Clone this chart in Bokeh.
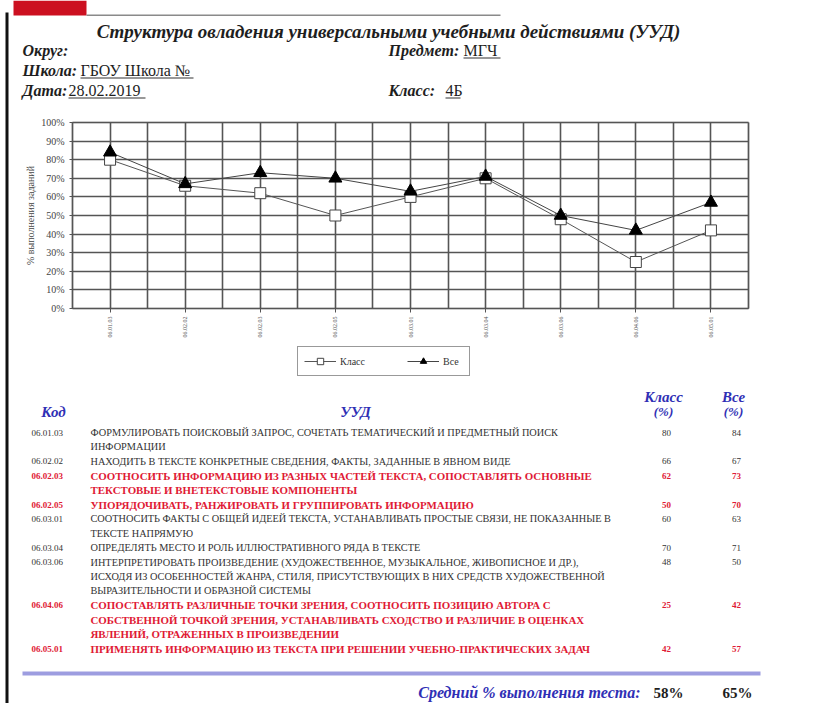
import math
from bokeh.plotting import figure
from bokeh.models import (Label, BoxAnnotation, FixedTicker, NumeralTickFormatter,
                          Range1d, LinearAxis, Grid)
from bokeh.embed import file_html
from bokeh.resources import INLINE

# ---------------- data ----------------
codes = ["06.01.03", "06.02.02", "06.02.03", "06.02.05", "06.03.01",
         "06.03.04", "06.03.06", "06.04.06", "06.05.01"]
class_pct = [80, 66, 62, 50, 60, 70, 48, 25, 42]
all_pct = [84, 67, 73, 70, 63, 71, 50, 42, 57]
uud_text = [
    ["ФОРМУЛИРОВАТЬ ПОИСКОВЫЙ ЗАПРОС, СОЧЕТАТЬ ТЕМАТИЧЕСКИЙ И ПРЕДМЕТНЫЙ ПОИСК",
     "ИНФОРМАЦИИ"],
    ["НАХОДИТЬ В ТЕКСТЕ КОНКРЕТНЫЕ СВЕДЕНИЯ, ФАКТЫ, ЗАДАННЫЕ В ЯВНОМ ВИДЕ"],
    ["СООТНОСИТЬ ИНФОРМАЦИЮ ИЗ РАЗНЫХ ЧАСТЕЙ ТЕКСТА, СОПОСТАВЛЯТЬ ОСНОВНЫЕ",
     "ТЕКСТОВЫЕ И ВНЕТЕКСТОВЫЕ КОМПОНЕНТЫ"],
    ["УПОРЯДОЧИВАТЬ, РАНЖИРОВАТЬ И ГРУППИРОВАТЬ ИНФОРМАЦИЮ"],
    ["СООТНОСИТЬ ФАКТЫ С ОБЩЕЙ ИДЕЕЙ ТЕКСТА, УСТАНАВЛИВАТЬ ПРОСТЫЕ СВЯЗИ, НЕ ПОКАЗАННЫЕ В",
     "ТЕКСТЕ НАПРЯМУЮ"],
    ["ОПРЕДЕЛЯТЬ МЕСТО И РОЛЬ ИЛЛЮСТРАТИВНОГО РЯДА В ТЕКСТЕ"],
    ["ИНТЕРПРЕТИРОВАТЬ ПРОИЗВЕДЕНИЕ (ХУДОЖЕСТВЕННОЕ, МУЗЫКАЛЬНОЕ, ЖИВОПИСНОЕ И ДР.),",
     "ИСХОДЯ ИЗ ОСОБЕННОСТЕЙ ЖАНРА, СТИЛЯ, ПРИСУТСТВУЮЩИХ В НИХ СРЕДСТВ ХУДОЖЕСТВЕННОЙ",
     "ВЫРАЗИТЕЛЬНОСТИ И ОБРАЗНОЙ СИСТЕМЫ"],
    ["СОПОСТАВЛЯТЬ РАЗЛИЧНЫЕ ТОЧКИ ЗРЕНИЯ, СООТНОСИТЬ ПОЗИЦИЮ АВТОРА С",
     "СОБСТВЕННОЙ ТОЧКОЙ ЗРЕНИЯ, УСТАНАВЛИВАТЬ СХОДСТВО И РАЗЛИЧИЕ В ОЦЕНКАХ",
     "ЯВЛЕНИЙ, ОТРАЖЕННЫХ В ПРОИЗВЕДЕНИИ"],
    ["ПРИМЕНЯТЬ ИНФОРМАЦИЮ ИЗ ТЕКСТА ПРИ РЕШЕНИИ УЧЕБНО-ПРАКТИЧЕСКИХ ЗАДАЧ"],
]
highlight = [False, False, True, True, False, False, False, True, True]
avg_class = "58%"
avg_all = "65%"
series_names = ["Класс", "Все"]
title_text = "Структура овладения универсальными учебными действиями (УУД)"
district = ""
subject = "МГЧ"
school = "ГБОУ Школа №"
date_text = "28.02.2019"
class_name = "4Б"
y_ticks = [i / 10 for i in range(11)]

# ---------------- layout constants (page pixels) ----------------
W, H = 799, 703
FL, FR, FT, FB = 72, 748, 122, 308   # chart plot area

SERIF = "Times"
BLUE = "#2f2fb5"
RED = "#e01a35"
TXT = "#333333"
DARK = "#1e1e1e"
GRID = "#555555"

n = len(codes)
x_lo, x_hi = -0.5, n - 0.5
kx = (x_hi - x_lo) / (FR - FL)
ky = 1.0 / (FB - FT)

p = figure(width=W, height=H, output_backend="svg", toolbar_location=None,
           x_range=Range1d(0, W), y_range=Range1d(H, 0),
           x_axis_type=None, y_axis_type=None, min_border=0)
p.outline_line_color = None
p.background_fill_color = "white"
p.border_fill_color = "white"
p.extra_x_ranges = {"cx": Range1d(x_lo - FL * kx, x_hi + (W - FR) * kx)}
p.extra_y_ranges = {"cy": Range1d(-(H - FB) * ky, FB * ky)}

# grid of the chart
half_ticks = [x_lo + i * 0.5 for i in range(2 * n + 1)]
if "cross_bounds" in Grid.properties():
    p.add_layout(Grid(dimension=0, ticker=FixedTicker(ticks=half_ticks),
                      x_range_name="cx", y_range_name="cy", cross_bounds=(0, 1),
                      grid_line_color=GRID, grid_line_width=1.6))
    p.add_layout(Grid(dimension=1, ticker=FixedTicker(ticks=y_ticks),
                      x_range_name="cx", y_range_name="cy", cross_bounds=(x_lo, x_hi),
                      grid_line_color=GRID, grid_line_width=1.6))
else:
    p.segment(half_ticks, [0] * len(half_ticks), half_ticks, [1] * len(half_ticks),
              x_range_name="cx", y_range_name="cy", line_color=GRID, line_width=1.6)
    p.segment([x_lo] * len(y_ticks), y_ticks, [x_hi] * len(y_ticks), y_ticks,
              x_range_name="cx", y_range_name="cy", line_color=GRID, line_width=1.6)
p.add_layout(BoxAnnotation(left=x_lo, right=x_hi, bottom=0, top=1,
                           x_range_name="cx", y_range_name="cy",
                           fill_alpha=0, line_color=GRID, line_width=1.6))

# axes
xax = LinearAxis(x_range_name="cx", y_range_name="cy", fixed_location=0,
                 bounds=(x_lo, x_hi), ticker=FixedTicker(ticks=list(range(n))))
xax.major_label_overrides = {i: c for i, c in enumerate(codes)}
xax.major_label_orientation = math.pi / 2
xax.major_label_text_font = SERIF
xax.major_label_text_font_size = "6px"
xax.major_label_text_color = "#555555"
xax.major_label_standoff = 4
xax.major_tick_out = 4
xax.major_tick_in = 0
xax.minor_tick_line_color = None
xax.axis_line_color = GRID
xax.major_tick_line_color = GRID
p.add_layout(xax, "below")

yax = LinearAxis(x_range_name="cx", y_range_name="cy", fixed_location=x_lo,
                 bounds=(0, 1), ticker=FixedTicker(ticks=y_ticks),
                 formatter=NumeralTickFormatter(format="0%"))
yax.major_label_text_font = SERIF
yax.major_label_text_font_size = "10px"
yax.major_label_text_color = "#444444"
yax.major_tick_out = 3
yax.major_tick_in = 0
yax.minor_tick_line_color = None
yax.axis_line_color = GRID
yax.major_tick_line_color = GRID
yax.axis_label = "% выполнения заданий"
yax.axis_label_text_font = SERIF
yax.axis_label_text_font_size = "10px"
yax.axis_label_text_font_style = "normal"
yax.axis_label_text_color = "#444444"
yax.axis_label_standoff = 2
p.add_layout(yax, "left")

# series
xs = list(range(n))
yc = [v / 100 for v in class_pct]
ya = [v / 100 for v in all_pct]
p.line(xs, yc, x_range_name="cx", y_range_name="cy", line_color="#555555",
       line_width=1, legend_label=series_names[0])
p.scatter(xs, yc, x_range_name="cx", y_range_name="cy", marker="square", size=11,
          fill_color="white", line_color="#444444", line_width=1,
          legend_label=series_names[0])
p.line(xs, ya, x_range_name="cx", y_range_name="cy", line_color="#444444",
       line_width=1, legend_label=series_names[1])
p.scatter(xs, ya, x_range_name="cx", y_range_name="cy", marker="triangle", size=13,
          fill_color="black", line_color="black", legend_label=series_names[1])

lg = p.legend[0]
lg.orientation = "horizontal"
lg.location = (297, H - 376)
lg.margin = 0
lg.padding = 6
lg.spacing = 42
lg.glyph_width = 32
lg.glyph_height = 16
lg.label_height = 16
lg.label_standoff = 4
lg.label_text_font = SERIF
lg.label_text_font_size = "10px"
lg.label_text_color = TXT
lg.border_line_color = "#333333"
lg.border_line_width = 1
lg.background_fill_color = "white"
lg.background_fill_alpha = 1


def put(text, px, py, size=9, color=TXT, style="normal", align="left"):
    p.add_layout(Label(x=px, y=py, text=text, text_font=SERIF, text_font_size=f"{size}px",
                       text_color=color, text_font_style=style, text_align=align,
                       text_baseline="middle"))


def box(px0, py0, px1, py1, color):
    p.add_layout(BoxAnnotation(left=px0, right=px1, top=py0, bottom=py1,
                               fill_color=color, fill_alpha=1, line_alpha=0,
                               level="overlay"))


# top decorations
box(13, 0, 86, 15, "#cc1020")
box(86, 14, 500, 15.5, "#8a8a8a")
box(5, 12, 8, H, "#111111")

# header
put(title_text, 388, 31, size=19, color=DARK, style="bold italic", align="center")
put("Округ: " + district, 22, 50, size=16, color=DARK, style="bold italic")
put("Предмет:", 388, 50, size=16, color=DARK, style="bold italic")
put(subject, 463, 50, size=16, color=DARK)
box(463, 57, 500, 58, "#333333")
put("Школа:", 22, 70, size=16, color=DARK, style="bold italic")
put(school, 80, 70, size=16, color=DARK)
box(80, 77, 193, 78, "#333333")
put("Дата:", 22, 90, size=16, color=DARK, style="bold italic")
put(date_text, 68, 90, size=16, color=DARK)
box(68, 97, 145, 98, "#333333")
put("Класс:", 388, 90, size=16, color=DARK, style="bold italic")
put(class_name, 445, 90, size=16, color=DARK)
box(445, 97, 460, 98, "#333333")

# table header
put("Код", 53, 411, size=15, color=BLUE, style="bold italic", align="center")
put("УУД", 355, 411, size=15, color=BLUE, style="bold italic", align="center")
put(series_names[0], 663, 396, size=15, color=BLUE, style="bold italic", align="center")
put("(%)", 663, 411, size=13, color=BLUE, style="bold italic", align="center")
put(series_names[1], 733, 396, size=15, color=BLUE, style="bold italic", align="center")
put("(%)", 733, 411, size=13, color=BLUE, style="bold italic", align="center")

# table rows
LINE = 14.4
k = 0
for code, lines, c, a, hl in zip(codes, uud_text, class_pct, all_pct, highlight):
    col = RED if hl else TXT
    sty = "bold" if hl else "normal"
    y0 = 432 + k * LINE
    put(code, 31, y0, size=9, color=col, style=sty)
    for j, ln in enumerate(lines):
        put(ln, 90, y0 + j * LINE, size=(10.9 if hl else 10.3), color=col, style=sty)
    put(str(c), 666, y0, size=9, color=col, style=sty, align="center")
    put(str(a), 736, y0, size=9, color=col, style=sty, align="center")
    k += len(lines)

# bottom separator and averages
box(22, 671, 760, 675, "#9d9de0")
put("Средний % выполнения теста:", 640, 692, size=16, color=BLUE, style="bold italic",
    align="right")
put(avg_class, 668, 692, size=15, color=DARK, style="bold", align="center")
put(avg_all, 737, 692, size=15, color=DARK, style="bold", align="center")

open("out.html", "w").write(file_html(p, INLINE))
